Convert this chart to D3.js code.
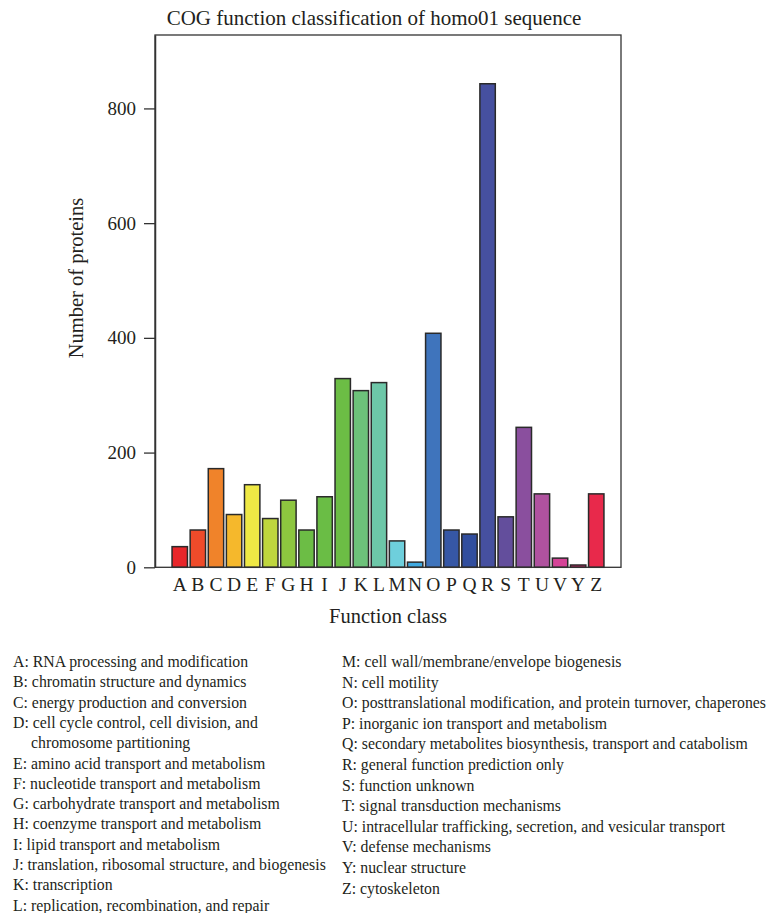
<!DOCTYPE html>
<html>
<head>
<meta charset="utf-8">
<script src="https://cdn.jsdelivr.net/npm/d3@7/dist/d3.min.js"></script>
<style>
  html, body { margin: 0; padding: 0; background: #fff; }
  svg { display: block; font-family: "Liberation Serif", "DejaVu Serif", serif; }
</style>
</head>
<body>
<svg id="chart" width="773" height="913"></svg>
<script>
// COG classes and protein counts
const categories = ["A","B","C","D","E","F","G","H","I","J","K","L","M","N","O","P","Q","R","S","T","U","V","Y","Z"];
const counts     = [36, 65, 172, 92, 144, 85, 117, 65, 123, 329, 308, 322, 46, 9, 408, 65, 58, 843, 88, 244, 128, 16, 4, 128];
const barColors  = ["#e8262a","#ef4b2a","#f0832a","#f5b82c","#efe945","#bfd63e","#8dc63f","#6cbd45",
                    "#6abd45","#6cbd45","#6dc27a","#6dc7a8","#6ecfdc","#3fa9e0","#3f74bc","#3657a5",
                    "#314e9e","#4650a0","#634e9c","#8a4f9e","#b0529f","#d54397","#d9246b","#e8294b"];
const yTicks     = [0, 200, 400, 600, 800];

const legendLeft = [
  ["A: RNA processing and modification"],
  ["B: chromatin structure and dynamics"],
  ["C: energy production and conversion"],
  ["D: cell cycle control, cell division, and", "chromosome partitioning"],
  ["E: amino acid transport and metabolism"],
  ["F: nucleotide transport and metabolism"],
  ["G: carbohydrate transport and metabolism"],
  ["H: coenzyme transport and metabolism"],
  ["I: lipid transport and metabolism"],
  ["J: translation, ribosomal structure, and biogenesis"],
  ["K: transcription"],
  ["L: replication, recombination, and repair"]
];
const legendRight = [
  "M: cell wall/membrane/envelope biogenesis",
  "N: cell motility",
  "O: posttranslational modification, and protein turnover, chaperones",
  "P: inorganic ion transport and metabolism",
  "Q: secondary metabolites biosynthesis, transport and catabolism",
  "R: general function prediction only",
  "S: function unknown",
  "T: signal transduction mechanisms",
  "U: intracellular trafficking, secretion, and vesicular transport",
  "V: defense mechanisms",
  "Y: nuclear structure",
  "Z: cytoskeleton"
];

const ink = "#231f20";
const svg = d3.select("#chart");

const plot = { left: 155, right: 621, top: 35, bottom: 567.3 };

const x = d3.scaleBand()
  .domain(categories)
  .range([163, 613])
  .paddingInner(0.15)
  .paddingOuter(0.5);

const y = d3.scaleLinear()
  .domain([0, 928])
  .range([plot.bottom, plot.top]);

// Title
svg.append("text")
  .attr("x", 374)
  .attr("y", 25)
  .attr("text-anchor", "middle")
  .attr("font-size", 21)
  .attr("fill", ink)
  .text("COG function classification of homo01 sequence");

// Bars
svg.append("g")
  .selectAll("rect")
  .data(categories.map((c, i) => ({ c, v: counts[i], col: barColors[i] })))
  .join("rect")
  .attr("x", d => x(d.c))
  .attr("width", x.bandwidth())
  .attr("y", d => y(d.v))
  .attr("height", d => y(0) - y(d.v))
  .attr("fill", d => d.col)
  .attr("stroke", "#2a2a2a")
  .attr("stroke-width", 1.5);

// Frame
svg.append("rect")
  .attr("x", plot.left)
  .attr("y", plot.top)
  .attr("width", plot.right - plot.left)
  .attr("height", plot.bottom - plot.top)
  .attr("fill", "none")
  .attr("stroke", "#333")
  .attr("stroke-width", 1.3);

// Y axis
const yAxis = svg.append("g")
  .attr("transform", `translate(${plot.left},0)`)
  .call(d3.axisLeft(y).tickValues(yTicks).tickSize(11).tickSizeOuter(0).tickPadding(8).tickFormat(d3.format("d")));
yAxis.select(".domain").attr("stroke", "#333").attr("stroke-width", 1.5);
yAxis.selectAll(".tick line").attr("stroke", "#333").attr("stroke-width", 1.3);
yAxis.selectAll(".tick text")
  .attr("font-family", "Liberation Serif, serif")
  .attr("font-size", 19)
  .attr("fill", ink);

// X axis (letters only)
const xAxis = svg.append("g")
  .attr("transform", `translate(0,${plot.bottom})`)
  .call(d3.axisBottom(x).tickSize(0).tickPadding(10));
xAxis.select(".domain").remove();
xAxis.selectAll(".tick text")
  .attr("font-family", "Liberation Serif, serif")
  .attr("font-size", 19.5)
  .attr("fill", ink);

// Axis titles
svg.append("text")
  .attr("x", 388)
  .attr("y", 623)
  .attr("text-anchor", "middle")
  .attr("font-size", 20.5)
  .attr("fill", ink)
  .text("Function class");

svg.append("text")
  .attr("transform", "translate(83,278) rotate(-90)")
  .attr("text-anchor", "middle")
  .attr("font-size", 20.5)
  .attr("fill", ink)
  .text("Number of proteins");

// Legend, left column
const lineH = 20.3;
let row = 0;
const left = svg.append("g").attr("font-size", 15.8).attr("fill", ink);
legendLeft.forEach(lines => {
  lines.forEach((t, k) => {
    left.append("text")
      .attr("x", k === 0 ? 13 : 31)
      .attr("y", 667 + row * lineH)
      .text(t);
    row++;
  });
});

// Legend, right column
const right = svg.append("g").attr("font-size", 15.8).attr("fill", ink);
legendRight.forEach((t, i) => {
  right.append("text")
    .attr("x", 342)
    .attr("y", 667 + i * 20.6)
    .text(t);
});
</script>
</body>
</html>
